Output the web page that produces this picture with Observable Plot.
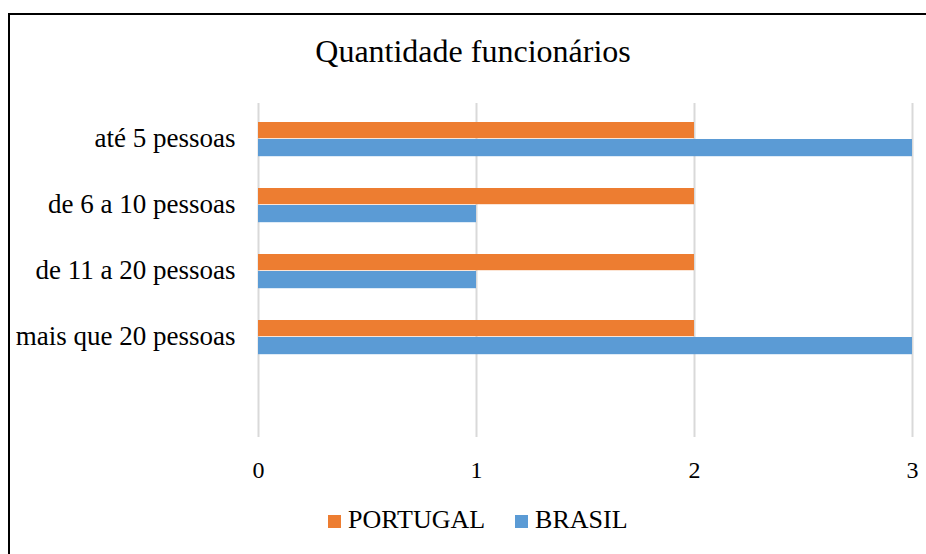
<!DOCTYPE html>
<html>
<head>
<meta charset="utf-8">
<script src="https://cdn.jsdelivr.net/npm/d3@7"></script>
<script src="https://cdn.jsdelivr.net/npm/@observablehq/plot@0.6"></script>
<style>
  html, body { margin: 0; padding: 0; background: #fff; }
  #wrap { position: relative; width: 926px; height: 554px; overflow: hidden; background: #fff; }
  #border { position: absolute; left: 8px; top: 13px; width: 1000px; height: 1000px;
            border-left: 2px solid #000; border-top: 2px solid #000; box-sizing: border-box; }
  #chart { position: absolute; left: 0; top: 0; }
  #title { position: absolute; left: 0; width: 946px; top: 35px; text-align: center;
           font-family: "Liberation Serif", serif; font-size: 32px; line-height: 32px; color: #000; }
  #legend { position: absolute; left: 328px; top: 507px; font-family: "Liberation Serif", serif;
            font-size: 26px; line-height: 26px; color: #000; white-space: nowrap; }
  .sw { display: inline-block; width: 13px; height: 13px; vertical-align: baseline; margin-right: 7px; }
  .item { display: inline-block; margin-right: 30px; }
</style>
</head>
<body>
<div id="wrap">
  <div id="border"></div>
  <div id="chart"></div>
  <div id="title"></div>
  <div id="legend"></div>
</div>
<script>
const title = "Quantidade funcionários";
const categories = ["até 5 pessoas", "de 6 a 10 pessoas", "de 11 a 20 pessoas", "mais que 20 pessoas"];
const seriesNames = ["PORTUGAL", "BRASIL"];
const seriesColors = ["#ED7D31", "#5B9BD5"];
const portugal = [2, 2, 2, 2];
const brasil = [3, 1, 1, 3];
const xTicks = [0, 1, 2, 3];

const portugalData = categories.map((c, i) => ({category: c, value: portugal[i]}));
const brasilData = categories.map((c, i) => ({category: c, value: brasil[i]}));

const serif = "'Liberation Serif', serif";

const plot = Plot.plot({
  width: 926,
  height: 554,
  marginLeft: 258,
  marginRight: 14,
  marginTop: 103,
  marginBottom: 117,
  style: {background: "transparent", fontFamily: serif, color: "#000"},
  x: {domain: [0, 3], ticks: xTicks, label: null},
  y: {domain: [...categories, ""], padding: 0, label: null},
  marks: [
    Plot.ruleX(xTicks, {stroke: "#d9d9d9", strokeWidth: 2}),
    Plot.barX(portugalData, {x: "value", y: "category", fill: seriesColors[0], insetTop: 17, insetBottom: 32.8}),
    Plot.barX(brasilData, {x: "value", y: "category", fill: seriesColors[1], insetTop: 34, insetBottom: 14.8}),
    Plot.axisX({ticks: xTicks, tickSize: 0, tickPadding: 23, fontSize: 24, fontFamily: serif, label: null, tickFormat: d => String(d)}),
    Plot.axisY({tickSize: 0, tickPadding: 23, fontSize: 27, fontFamily: serif, label: null})
  ]
});
document.getElementById("chart").appendChild(plot);

document.getElementById("title").textContent = title;
const legend = document.getElementById("legend");
seriesNames.forEach((name, i) => {
  const item = document.createElement("span");
  item.className = "item";
  const sw = document.createElement("span");
  sw.className = "sw";
  sw.style.background = seriesColors[i];
  item.appendChild(sw);
  item.appendChild(document.createTextNode(name));
  legend.appendChild(item);
});
</script>
</body>
</html>
